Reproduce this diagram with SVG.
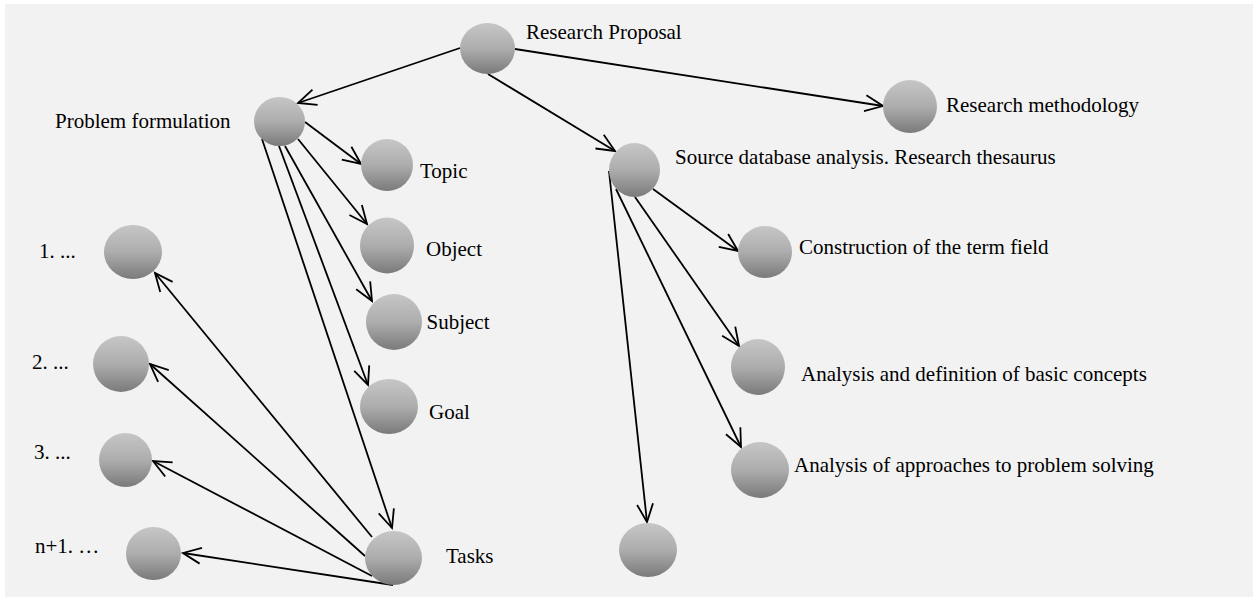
<svg xmlns="http://www.w3.org/2000/svg" width="1253" height="598" viewBox="0 0 1253 598">
<style>
.n{fill:url(#g);}
.t{font-family:"Liberation Serif","Times New Roman",serif;font-size:21px;fill:#000;}
.c line{stroke:#000;stroke-width:1.8;marker-end:url(#a);}
</style>
<defs>
<linearGradient id="g" x1="0" y1="0" x2="0" y2="1">
<stop offset="0" stop-color="#c6c6c6"/>
<stop offset="0.5" stop-color="#adadad"/>
<stop offset="1" stop-color="#7a7a7a"/>
</linearGradient>
<marker id="a" markerUnits="userSpaceOnUse" markerWidth="22" markerHeight="20" refX="19" refY="9" orient="auto" overflow="visible">
<path d="M1,1 L19,9 L1,17" fill="none" stroke="#000" stroke-width="1.8"/>
</marker>
</defs>
<rect x="0" y="0" width="1253" height="598" fill="#fff"/>
<rect x="5" y="4" width="1248" height="593" fill="#f2f2f2"/>
<g class="c" id="connectors">
<line x1="460" y1="48" x2="298" y2="103"/>
<line x1="515" y1="49" x2="883" y2="106"/>
<line x1="488" y1="74" x2="615" y2="151"/>
<line x1="305" y1="122" x2="361" y2="164"/>
<line x1="298" y1="139" x2="367" y2="224"/>
<line x1="285" y1="146" x2="372" y2="301"/>
<line x1="279" y1="146" x2="368" y2="385"/>
<line x1="262" y1="139" x2="392" y2="528"/>
<line x1="372" y1="537" x2="155" y2="273"/>
<line x1="365" y1="556" x2="150" y2="364"/>
<line x1="372" y1="576" x2="153" y2="461"/>
<line x1="393" y1="585" x2="183" y2="553"/>
<line x1="653" y1="189" x2="738" y2="251"/>
<line x1="635" y1="197" x2="739" y2="346"/>
<line x1="616" y1="189" x2="741" y2="447"/>
<line x1="609" y1="171" x2="647" y2="522"/>
</g>
<g id="research-proposal"><ellipse class="n" cx="487.5" cy="48.5" rx="27.5" ry="25.5"/><text class="t" x="526" y="39">Research Proposal</text></g>
<g id="problem-formulation"><ellipse class="n" cx="279.5" cy="121.5" rx="25.5" ry="24.5"/><text class="t" x="55" y="128">Problem formulation</text></g>
<g id="research-methodology"><ellipse class="n" cx="910" cy="106.5" rx="27" ry="26.5"/><text class="t" x="946" y="112">Research methodology</text></g>
<g id="topic"><ellipse class="n" cx="387" cy="165" rx="26" ry="26"/><text class="t" x="420" y="178">Topic</text></g>
<g id="object"><ellipse class="n" cx="387" cy="245.5" rx="27" ry="28"/><text class="t" x="426" y="256">Object</text></g>
<g id="subject"><ellipse class="n" cx="394" cy="322" rx="28" ry="28"/><text class="t" x="426.5" y="329">Subject</text></g>
<g id="goal"><ellipse class="n" cx="389" cy="406.5" rx="29" ry="27.5"/><text class="t" x="429" y="419">Goal</text></g>
<g id="tasks"><ellipse class="n" cx="393.5" cy="558" rx="28.5" ry="27"/><text class="t" x="446" y="563">Tasks</text></g>
<g id="task-1"><ellipse class="n" cx="133" cy="252" rx="29" ry="27"/><text class="t" x="39" y="258">1. ...</text></g>
<g id="task-2"><ellipse class="n" cx="121" cy="364" rx="28" ry="28"/><text class="t" x="32" y="369">2. ...</text></g>
<g id="task-3"><ellipse class="n" cx="125.5" cy="460" rx="26.5" ry="27"/><text class="t" x="34" y="459">3. ...</text></g>
<g id="task-n1"><ellipse class="n" cx="153.5" cy="553.5" rx="27.5" ry="26.5"/><text class="t" x="35" y="553">n+1. …</text></g>
<g id="source-database"><ellipse class="n" cx="634.5" cy="170" rx="25.5" ry="27"/><text class="t" x="675" y="164">Source database analysis. Research thesaurus</text></g>
<g id="term-field"><ellipse class="n" cx="765" cy="252" rx="27" ry="26"/><text class="t" x="799" y="254">Construction of the term field</text></g>
<g id="basic-concepts"><ellipse class="n" cx="758" cy="367" rx="27" ry="28"/><text class="t" x="801" y="381">Analysis and definition of basic concepts</text></g>
<g id="approaches"><ellipse class="n" cx="760" cy="470" rx="29" ry="28"/><text class="t" x="794" y="472">Analysis of approaches to problem solving</text></g>
<g id="source-empty"><ellipse class="n" cx="648" cy="550" rx="29" ry="27"/></g>
</svg>
